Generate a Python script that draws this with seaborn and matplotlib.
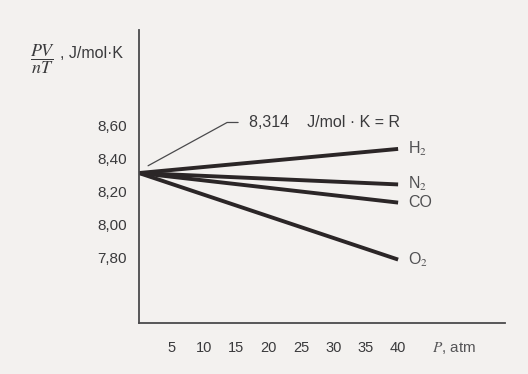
import matplotlib
matplotlib.use("Agg")
import matplotlib.pyplot as plt
import seaborn as sns
import pandas as pd

# ---- data ----
gases = ["H$_2$", "N$_2$", "CO", "O$_2$"]
pressure = [0, 40]                      # atm
start_value = 8.314                     # J/mol·K at P -> 0
end_values = [8.46, 8.245, 8.135, 7.79]  # PV/nT at 40 atm
x_ticks = [5, 10, 15, 20, 25, 30, 35, 40]
y_ticks = [7.80, 8.00, 8.20, 8.40, 8.60]
y_tick_labels = ["7,80", "8,00", "8,20", "8,40", "8,60"]

rows = []
for g, ev in zip(gases, end_values):
    rows.append({"gas": g, "P": pressure[0], "PVnT": start_value})
    rows.append({"gas": g, "P": pressure[1], "PVnT": ev})
df = pd.DataFrame(rows)

sns.set_style("white")
plt.rcParams["font.family"] = ["Liberation Sans", "DejaVu Sans"]
plt.rcParams["mathtext.fontset"] = "stix"

paper = "#f3f1ef"
ink = "#2b2627"
txt = "#3a3a3c"

fig = plt.figure(figsize=(5.28, 3.74), dpi=100, facecolor=paper)
ax = fig.add_axes([139 / 528, 1 - 323 / 374, 366 / 528, 293 / 374])
ax.set_facecolor(paper)

sns.lineplot(data=df, x="P", y="PVnT", hue="gas",
             palette=[ink] * len(gases), linewidth=2.8,
             legend=False, ax=ax, solid_capstyle="butt")

ax.set_xlim(0, 56.5)
ax.set_ylim(7.406, 9.18)

for s in ["top", "right"]:
    ax.spines[s].set_visible(False)
for s in ["left", "bottom"]:
    ax.spines[s].set_color("#4a4a4c")
    ax.spines[s].set_linewidth(1.3)

ax.set_xticks(x_ticks)
ax.set_xticklabels([str(v) for v in x_ticks])
ax.set_yticks(y_ticks)
ax.set_yticklabels(y_tick_labels)
ax.tick_params(axis="x", direction="in", length=10, width=1.2, pad=13,
               labelsize=10.5, colors="#4a4a4c", labelcolor=txt)
ax.tick_params(axis="y", direction="in", length=10, width=1.2, pad=9,
               labelsize=11, colors="#4a4a4c", labelcolor=txt)
ax.set_xlabel("")
ax.set_ylabel("")

# line end labels
for g, ev in zip(gases, end_values):
    ax.text(41.6, ev, g, fontsize=11.5, color="#505052", va="center", ha="left")

# annotation for R
ax.plot([1.4, 13.6, 15.3], [8.358, 8.62, 8.62], color="#4a4a4c", lw=0.9)
ax.text(17.0, 8.62, "8,314    J/mol · K = R", fontsize=11.5, color=txt,
        va="center", ha="left")

# axis labels
fig.text(43 / 528, 1 - 59 / 374, r"$\dfrac{PV}{nT}$", fontsize=13, color=txt,
         ha="center", va="center")
fig.text(60 / 528, 1 - 53 / 374, ", J/mol·K", fontsize=11.5, color=txt,
         ha="left", va="center")
fig.text(432 / 528, 1 - 348 / 374, "$P$, atm", fontsize=11, color="#555557",
         ha="left", va="center")

fig.savefig("out.png", dpi=100, facecolor=paper)
